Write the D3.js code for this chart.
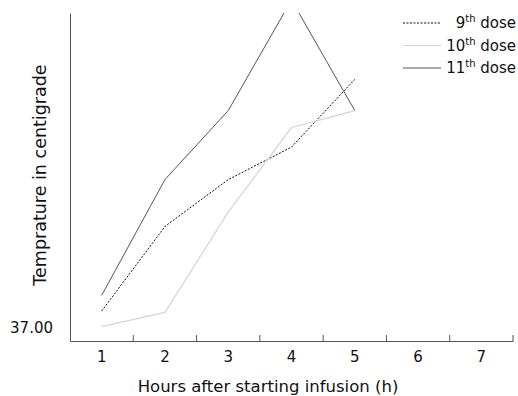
<!DOCTYPE html>
<html>
<head>
<meta charset="utf-8">
<script src="https://cdn.jsdelivr.net/npm/d3@7"></script>
<style>
  body { margin: 0; background: #fff; }
  text { font-family: "DejaVu Sans", Verdana, sans-serif; fill: #111; }
</style>
</head>
<body>
<div class="canvas"></div>
<script>
// dimensions
const w = 518;
const h = 396;
const margin = { top: 13, right: 5, bottom: 55, left: 70 };
const graphWidth = w - margin.left - margin.right;
const graphHeight = h - margin.top - margin.bottom;

// data
const hours = ["1", "2", "3", "4", "5", "6", "7"];
const dose9 = [37.13, 37.78, 38.14, 38.39, 38.91];
const dose10 = [37.01, 37.12, 37.89, 38.54, 38.67];
const dose11 = [37.25, 38.14, 38.67, 39.52, 38.67];
const yTicks = [37];

const series = [
  { name: "9", values: dose9, color: "#111", width: 1, dash: "2,1.5" },
  { name: "10", values: dose10, color: "#d4d4d4", width: 1.2, dash: null },
  { name: "11", values: dose11, color: "#555", width: 1, dash: null }
];

const svg = d3.select(".canvas").append("svg").attr("width", w).attr("height", h);

// scales
const xScale = d3.scaleBand().domain(hours).range([0, graphWidth]);
const yScale = d3.scaleLinear().domain([36.9, 39.42]).range([graphHeight, 0]);

const graph = svg.append("g")
  .attr("transform", `translate(${margin.left}, ${margin.top})`);

// clip so the peak of the 11th dose is cut at the top
svg.append("defs").append("clipPath").attr("id", "plot")
  .append("rect").attr("width", graphWidth).attr("height", graphHeight);

// x axis: labels only, tick marks drawn at band edges pointing inward
const xAxis = d3.axisBottom(xScale).tickSize(0).tickSizeOuter(0).tickPadding(10);
const xg = graph.append("g")
  .attr("transform", `translate(0, ${graphHeight})`)
  .call(xAxis);
xg.select(".domain").attr("stroke", "#555");
xg.selectAll("text").style("font-size", "15px");
xg.selectAll(".edge")
  .data(hours)
  .enter()
  .append("line")
  .attr("class", "edge")
  .attr("x1", d => xScale(d) + xScale.bandwidth())
  .attr("x2", d => xScale(d) + xScale.bandwidth())
  .attr("y1", 0)
  .attr("y2", -6)
  .attr("stroke", "#555");

// y axis
const yAxis = d3.axisLeft(yScale).tickValues(yTicks).tickFormat(d3.format(".2f"))
  .tickSize(0).tickSizeOuter(0).tickPadding(17);
const yg = graph.append("g").call(yAxis);
yg.select(".domain").attr("stroke", "#555");
yg.selectAll("text").style("font-size", "15px");

// lines
const line = d3.line()
  .x((d, i) => xScale(hours[i]) + xScale.bandwidth() / 2)
  .y(d => yScale(d));

graph.append("g").attr("clip-path", "url(#plot)")
  .selectAll("path")
  .data(series)
  .enter()
  .append("path")
  .attr("d", d => line(d.values))
  .attr("fill", "none")
  .attr("stroke", d => d.color)
  .attr("stroke-width", d => d.width)
  .attr("stroke-dasharray", d => d.dash);

// legend
const legend = svg.append("g").attr("transform", "translate(403, 23)");
const rows = legend.selectAll("g")
  .data(series)
  .enter()
  .append("g")
  .attr("transform", (d, i) => `translate(0, ${i * 22.5})`);
rows.append("line")
  .attr("x1", 0)
  .attr("x2", 38)
  .attr("stroke", d => d.color)
  .attr("stroke-width", d => d.width)
  .attr("stroke-dasharray", d => d.dash);
const lt = rows.append("text")
  .attr("x", 113)
  .attr("y", 5)
  .attr("text-anchor", "end")
  .style("font-size", "15px");
lt.append("tspan").text(d => d.name);
lt.append("tspan").attr("dy", -6).style("font-size", "10px").text("th");
lt.append("tspan").attr("dy", 6).text(" dose");

// axis titles
svg.append("text")
  .attr("x", 268)
  .attr("y", 392)
  .attr("text-anchor", "middle")
  .style("font-size", "16.5px")
  .text("Hours after starting infusion (h)");

svg.append("text")
  .attr("transform", `translate(46, 175) rotate(-90)`)
  .attr("text-anchor", "middle")
  .style("font-size", "17.5px")
  .text("Temprature in centigrade");
</script>
</body>
</html>
